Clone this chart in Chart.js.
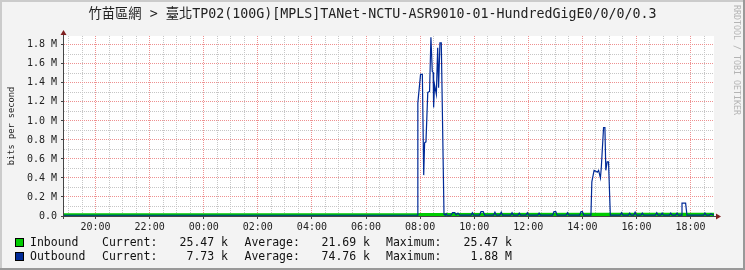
<!DOCTYPE html>
<html>
<head>
<meta charset="utf-8">
<script src="https://cdn.jsdelivr.net/npm/chart.js@4.4.1/dist/chart.umd.min.js"></script>
<style>
body { margin: 0; background: #fff; }
#wrap { position: relative; width: 745px; height: 270px; font-family: 'DejaVu Sans Mono', monospace; }
#chart { position: absolute; left: 0; top: 0; }
#title { position: absolute; left: 0; top: 6px; width: 745px; text-align: center; font-size: 13.3px; line-height: 16px; color: #222;
  font-family: 'DejaVu Sans Mono', 'Noto Sans CJK TC', monospace; white-space: pre; }
#wm { position: absolute; left: 732px; top: 5px; writing-mode: vertical-rl; font-size: 8.3px; line-height: 9px; color: #b4b4b4; white-space: pre; }
.lg { position: absolute; font-size: 11.5px; line-height: 14px; color: #111; white-space: pre; }
.box { position: absolute; width: 7px; height: 7px; border: 1px solid #000; }
</style>
</head>
<body>
<div id="wrap">
  <canvas id="chart" width="745" height="270"></canvas>
  <div id="title">竹苗區網 &gt; 臺北TP02(100G)[MPLS]TANet-NCTU-ASR9010-01-HundredGigE0/0/0/0.3</div>
  <div id="wm">RRDTOOL / TOBI OETIKER</div>
</div>
<script>
// time in minutes from 00:00 (negative = previous evening), values in Mbit/s
var timeMin = -310;
var timeMax = 1132;

var inboundPoints = [
  [-310, 0.021], [474, 0.021], [480, 0.024], [900, 0.025], [1132, 0.0255]
];

var outboundPoints = [
  [-310, 0.008], [474, 0.008],
  [475, 1.19], [481, 1.49], [485, 1.49], [488, 0.43], [490, 0.77], [493, 0.78],
  [497, 1.30], [501, 1.31], [504, 1.88], [507, 1.52], [509, 1.51], [510, 1.14],
  [512, 1.38], [516, 1.28], [519, 1.77], [521, 1.35], [524, 1.82], [527, 1.82],
  [533, 0.02], [536, 0.008], [538, 0.025], [540, 0.008],
  [548, 0.008], [552, 0.035], [557, 0.035], [560, 0.012], [564, 0.03], [568, 0.01],
  [593, 0.01], [596, 0.035], [599, 0.01],
  [612, 0.01], [615, 0.045], [620, 0.045], [623, 0.01],
  [643, 0.01], [646, 0.04], [649, 0.01],
  [657, 0.01], [660, 0.04], [663, 0.01],
  [681, 0.01], [684, 0.035], [687, 0.01],
  [697, 0.01], [700, 0.03], [703, 0.01],
  [715, 0.01], [718, 0.035], [721, 0.01],
  [741, 0.01], [744, 0.03], [747, 0.01],
  [774, 0.01], [777, 0.045], [781, 0.045], [784, 0.01],
  [804, 0.01], [807, 0.035], [810, 0.01],
  [834, 0.01], [837, 0.045], [840, 0.045], [843, 0.01],
  [859, 0.01], [861, 0.36], [866, 0.48], [870, 0.47], [873, 0.46], [876, 0.48],
  [880, 0.40], [882, 0.51], [887, 0.93], [890, 0.93], [892, 0.48], [895, 0.57],
  [898, 0.57], [902, 0.01],
  [924, 0.01], [927, 0.035], [930, 0.01],
  [942, 0.01], [945, 0.03], [948, 0.01],
  [954, 0.01], [957, 0.04], [960, 0.01],
  [970, 0.01], [973, 0.03], [976, 0.01],
  [1002, 0.01], [1005, 0.035], [1008, 0.01],
  [1014, 0.01], [1017, 0.03], [1020, 0.01],
  [1033, 0.01], [1036, 0.03], [1039, 0.01],
  [1047, 0.01], [1050, 0.03], [1053, 0.01],
  [1059, 0.01], [1061, 0.135], [1069, 0.135], [1072, 0.01],
  [1109, 0.01], [1112, 0.03], [1115, 0.01],
  [1122, 0.01], [1125, 0.025], [1132, 0.008]
];

var legendNames = ['Inbound', 'Outbound'];
var legendColors = ['#00cc00', '#002a97'];
var currentVals = ['25.47 k', '7.73 k'];
var averageVals = ['21.69 k', '74.76 k'];
var maximumVals = ['25.47 k', '1.88 M'];

var yMax = 1.893;

function toXY(list) {
  return list.map(function (p) { return {x: p[0], y: p[1]}; });
}

// legend, rrdtool style
var wrap = document.getElementById('wrap');
function addText(txt, left, right, rowTop) {
  var s = document.createElement('span');
  s.className = 'lg';
  s.textContent = txt;
  s.style.top = rowTop + 'px';
  if (left != null) s.style.left = left + 'px';
  else s.style.right = right + 'px';
  wrap.appendChild(s);
}
for (var i = 0; i < legendNames.length; i++) {
  var rowTop = 235 + i * 14.3;
  var b = document.createElement('div');
  b.className = 'box';
  b.style.left = '15px';
  b.style.top = (238 + i * 14.3) + 'px';
  b.style.background = legendColors[i];
  wrap.appendChild(b);
  addText(legendNames[i], 30, null, rowTop);
  addText('Current:', 102, null, rowTop);
  addText(currentVals[i], null, 745 - 228, rowTop);
  addText('Average:', 244.5, null, rowTop);
  addText(averageVals[i], null, 745 - 370, rowTop);
  addText('Maximum:', 386, null, rowTop);
  addText(maximumVals[i], null, 745 - 512, rowTop);
}

var redGrid = '#ee9090';
var grayGrid = '#c6c6c6';
var axisColor = '#444';
var arrowColor = '#7f1f1f';

var rrdFrame = {
  id: 'rrdFrame',
  beforeDraw: function (chart) {
    var ctx = chart.ctx, a = chart.chartArea;
    ctx.save();
    ctx.fillStyle = '#f3f3f3';
    ctx.fillRect(0, 0, 745, 270);
    ctx.fillStyle = '#ffffff';
    ctx.fillRect(a.left, a.top, a.right - a.left, a.bottom - a.top);
    // shaded border
    ctx.fillStyle = '#cbcbcb';
    ctx.fillRect(0, 0, 745, 2);
    ctx.fillRect(0, 0, 2, 270);
    ctx.fillStyle = '#999999';
    ctx.fillRect(0, 268, 745, 2);
    ctx.fillRect(743, 0, 2, 270);
    ctx.restore();
  },
  afterDraw: function (chart) {
    var ctx = chart.ctx, a = chart.chartArea;
    ctx.save();
    ctx.strokeStyle = axisColor;
    ctx.lineWidth = 1;
    ctx.beginPath();
    ctx.moveTo(a.left - 0.5, a.bottom + 3);
    ctx.lineTo(a.left - 0.5, a.top - 4);
    ctx.moveTo(a.left - 3, a.bottom + 0.5);
    ctx.lineTo(a.right + 3, a.bottom + 0.5);
    ctx.stroke();
    ctx.fillStyle = arrowColor;
    ctx.beginPath();
    ctx.moveTo(a.left - 3.5, a.top - 1);
    ctx.lineTo(a.left + 2.5, a.top - 1);
    ctx.lineTo(a.left - 0.5, a.top - 6);
    ctx.closePath();
    ctx.fill();
    ctx.beginPath();
    ctx.moveTo(a.right + 2, a.bottom - 2.5);
    ctx.lineTo(a.right + 2, a.bottom + 3.5);
    ctx.lineTo(a.right + 7, a.bottom + 0.5);
    ctx.closePath();
    ctx.fill();
    ctx.restore();
  }
};

var ctx = document.getElementById('chart').getContext('2d');
var chart = new Chart(ctx, {
  type: 'line',
  data: {
    datasets: [{
      label: 'Outbound',
      data: toXY(outboundPoints),
      borderColor: '#002a97',
      borderWidth: 1.2,
      pointRadius: 0,
      tension: 0,
      fill: false
    }, {
      label: 'Inbound',
      data: toXY(inboundPoints),
      borderColor: '#00cc00',
      backgroundColor: '#00cc00',
      borderWidth: 1.5,
      pointRadius: 0,
      tension: 0,
      fill: 'origin'
    }]
  },
  options: {
    responsive: false,
    animation: false,
    devicePixelRatio: 1,
    layout: { padding: { top: 36, right: 31, left: 0, bottom: 0 } },
    plugins: {
      legend: { display: false },
      tooltip: { enabled: false },
      title: { display: false }
    },
    scales: {
      x: {
        type: 'linear',
        position: 'bottom',
        min: timeMin,
        max: timeMax,
        afterFit: function (scale) { scale.height = 54; },
        border: { display: false, dash: [1, 1] },
        grid: {
          lineWidth: 1,
          tickLength: 3,
          tickBorderDash: [],
          color: function (c) { return Math.round(c.tick.value) % 120 === 0 ? redGrid : grayGrid; },
          tickColor: function (c) { return Math.round(c.tick.value) % 120 === 0 ? axisColor : 'rgba(0,0,0,0)'; }
        },
        ticks: {
          stepSize: 30,
          autoSkip: false,
          includeBounds: false,
          maxRotation: 0,
          padding: 2,
          color: '#222',
          font: { family: 'DejaVu Sans Mono', size: 10 },
          callback: function (v) {
            v = Math.round(v);
            if (v % 120 !== 0) return '';
            var h = ((v / 60) % 24 + 24) % 24;
            return (h < 10 ? '0' : '') + h + ':00';
          }
        }
      },
      y: {
        position: 'left',
        min: 0,
        max: yMax,
        afterFit: function (scale) { scale.width = 64; },
        border: { display: false, dash: [1, 1] },
        grid: {
          lineWidth: 1,
          tickLength: 3,
          tickBorderDash: [],
          color: function (c) { return Math.round(c.tick.value * 10) % 2 === 0 ? redGrid : grayGrid; },
          tickColor: function (c) { return Math.round(c.tick.value * 10) % 2 === 0 ? axisColor : 'rgba(0,0,0,0)'; }
        },
        title: {
          display: true,
          text: 'bits per second',
          color: '#222',
          padding: { top: 6.5, bottom: 0 },
          font: { family: 'DejaVu Sans Mono', size: 8.7 }
        },
        ticks: {
          stepSize: 0.1,
          autoSkip: false,
          includeBounds: false,
          padding: 4,
          color: '#222',
          font: { family: 'DejaVu Sans Mono', size: 10 },
          callback: function (v) {
            var n = Math.round(v * 10);
            if (n % 2 !== 0) return '';
            if (n === 0) return '0.0';
            return (n / 10).toFixed(1) + ' M';
          }
        }
      }
    }
  },
  plugins: [rrdFrame]
});
</script>
</body>
</html>
